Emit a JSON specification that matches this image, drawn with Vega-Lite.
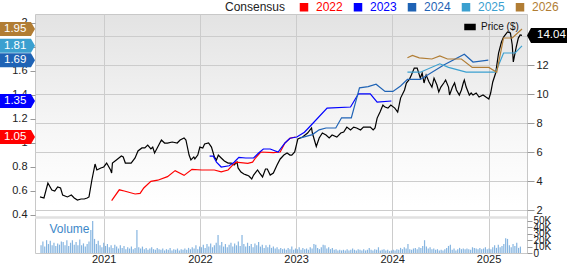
{
"$schema":"https://vega.github.io/schema/vega-lite/v6.json",
"width":492,"height":239,
"autosize":"none",
"padding":{"left":35,"top":14,"right":41,"bottom":11},
"background":"white",
"config":{"font":"Liberation Sans","view":{"stroke":"#c8c8c8","fill":{"gradient":"linear","x1":0,"y1":0,"x2":0,"y2":1,"stops":[{"offset":0,"color":"#e3e3e3"},{"offset":0.5,"color":"#f7f7f7"},{"offset":0.8,"color":"#ffffff"},{"offset":1,"color":"#ffffff"}]}},"axis":{"labelFont":"Liberation Sans","labelColor":"#222","title":null,"domain":false}},
"resolve":{"scale":{"y":"independent"},"axis":{"y":"independent"}},
"layer":[
 {"data":{"values":[{}]},"mark":{"type":"rect","color":"#e1e1e1"},"encoding":{"y":{"datum":57.5,"type":"quantitative","scale":{"domain":[0,373.4]},"axis":{"orient":"right","values":[0,10,20,30,40,50],"labelExpr":"datum.value == 0 ? '0' : datum.value + 'K'","grid":false,"tickSize":5,"tickColor":"#999","labelPadding":1,"labelFontSize":10,"labelOverlap":false,"labelFlush":false,"domain":false,"title":null}},"y2":{"datum":53.5}}},
 {"data":{"values":[
{"d":"2020-05-08","v":12},{"d":"2020-05-15","v":18},{"d":"2020-05-22","v":10},{"d":"2020-05-29","v":20},{"d":"2020-06-05","v":14},{"d":"2020-06-12","v":19},{"d":"2020-06-19","v":12},{"d":"2020-06-26","v":16},{"d":"2020-07-03","v":11},{"d":"2020-07-10","v":15},{"d":"2020-07-17","v":13},{"d":"2020-07-24","v":18},{"d":"2020-07-31","v":17},{"d":"2020-08-07","v":12},{"d":"2020-08-14","v":20},{"d":"2020-08-21","v":11},{"d":"2020-08-28","v":16},{"d":"2020-09-04","v":20},{"d":"2020-09-11","v":13},{"d":"2020-09-18","v":17},{"d":"2020-09-25","v":12},{"d":"2020-10-02","v":21},{"d":"2020-10-09","v":12},{"d":"2020-10-16","v":15},{"d":"2020-10-23","v":10},{"d":"2020-10-30","v":14},{"d":"2020-11-06","v":18},{"d":"2020-11-13","v":36},{"d":"2020-11-20","v":50},{"d":"2020-11-27","v":22},{"d":"2020-12-04","v":14},{"d":"2020-12-11","v":19},{"d":"2020-12-18","v":12},{"d":"2020-12-25","v":9},
{"d":"2021-01-01","v":16},{"d":"2021-01-08","v":11},{"d":"2021-01-15","v":14},{"d":"2021-01-22","v":9},{"d":"2021-01-29","v":12},{"d":"2021-02-05","v":8},{"d":"2021-02-12","v":13},{"d":"2021-02-19","v":10},{"d":"2021-02-26","v":7},{"d":"2021-03-05","v":12},{"d":"2021-03-12","v":8},{"d":"2021-03-19","v":11},{"d":"2021-03-26","v":6},{"d":"2021-04-02","v":9},{"d":"2021-04-09","v":7},{"d":"2021-04-16","v":10},{"d":"2021-04-23","v":6},{"d":"2021-04-30","v":8},{"d":"2021-05-07","v":36},{"d":"2021-05-14","v":9},{"d":"2021-05-21","v":7},{"d":"2021-05-28","v":10},{"d":"2021-06-04","v":6},{"d":"2021-06-11","v":8},{"d":"2021-06-18","v":5},{"d":"2021-06-25","v":7},{"d":"2021-07-02","v":9},{"d":"2021-07-09","v":6},{"d":"2021-07-16","v":5},{"d":"2021-07-23","v":8},{"d":"2021-07-30","v":6},{"d":"2021-08-06","v":5},{"d":"2021-08-13","v":7},{"d":"2021-08-20","v":4},{"d":"2021-08-27","v":6},{"d":"2021-09-03","v":5},{"d":"2021-09-10","v":8},{"d":"2021-09-17","v":4},{"d":"2021-09-24","v":6},{"d":"2021-10-01","v":5},{"d":"2021-10-08","v":7},{"d":"2021-10-15","v":4},{"d":"2021-10-22","v":6},{"d":"2021-10-29","v":5},{"d":"2021-11-05","v":7},{"d":"2021-11-12","v":5},{"d":"2021-11-19","v":8},{"d":"2021-11-26","v":6},{"d":"2021-12-03","v":9},{"d":"2021-12-10","v":7},{"d":"2021-12-17","v":12},{"d":"2021-12-24","v":6},{"d":"2021-12-31","v":10},
{"d":"2022-01-07","v":9},{"d":"2022-01-14","v":13},{"d":"2022-01-21","v":8},{"d":"2022-01-28","v":14},{"d":"2022-02-04","v":10},{"d":"2022-02-11","v":15},{"d":"2022-02-18","v":9},{"d":"2022-02-25","v":12},{"d":"2022-03-04","v":16},{"d":"2022-03-11","v":28},{"d":"2022-03-18","v":12},{"d":"2022-03-25","v":17},{"d":"2022-04-01","v":10},{"d":"2022-04-08","v":14},{"d":"2022-04-15","v":9},{"d":"2022-04-22","v":13},{"d":"2022-04-29","v":16},{"d":"2022-05-06","v":10},{"d":"2022-05-13","v":15},{"d":"2022-05-20","v":12},{"d":"2022-05-27","v":18},{"d":"2022-06-03","v":11},{"d":"2022-06-10","v":28},{"d":"2022-06-17","v":14},{"d":"2022-06-24","v":10},{"d":"2022-07-01","v":16},{"d":"2022-07-08","v":11},{"d":"2022-07-15","v":14},{"d":"2022-07-22","v":9},{"d":"2022-07-29","v":15},{"d":"2022-08-05","v":12},{"d":"2022-08-12","v":17},{"d":"2022-08-19","v":10},{"d":"2022-08-26","v":13},{"d":"2022-09-02","v":8},{"d":"2022-09-09","v":12},{"d":"2022-09-16","v":9},{"d":"2022-09-23","v":13},{"d":"2022-09-30","v":8},{"d":"2022-10-07","v":10},{"d":"2022-10-14","v":7},{"d":"2022-10-21","v":9},{"d":"2022-10-28","v":6},{"d":"2022-11-04","v":8},{"d":"2022-11-11","v":6},{"d":"2022-11-18","v":7},{"d":"2022-11-25","v":5},{"d":"2022-12-02","v":8},{"d":"2022-12-09","v":6},{"d":"2022-12-16","v":10},{"d":"2022-12-23","v":5},{"d":"2022-12-30","v":7},
{"d":"2023-01-06","v":6},{"d":"2023-01-13","v":9},{"d":"2023-01-20","v":5},{"d":"2023-01-27","v":8},{"d":"2023-02-03","v":6},{"d":"2023-02-10","v":7},{"d":"2023-02-17","v":5},{"d":"2023-02-24","v":9},{"d":"2023-03-03","v":7},{"d":"2023-03-10","v":14},{"d":"2023-03-17","v":13},{"d":"2023-03-24","v":8},{"d":"2023-03-31","v":6},{"d":"2023-04-07","v":9},{"d":"2023-04-14","v":13},{"d":"2023-04-21","v":12},{"d":"2023-04-28","v":7},{"d":"2023-05-05","v":9},{"d":"2023-05-12","v":6},{"d":"2023-05-19","v":8},{"d":"2023-05-26","v":5},{"d":"2023-06-02","v":6},{"d":"2023-06-09","v":4},{"d":"2023-06-16","v":5},{"d":"2023-06-23","v":4},{"d":"2023-06-30","v":5},{"d":"2023-07-07","v":4},{"d":"2023-07-14","v":6},{"d":"2023-07-21","v":4},{"d":"2023-07-28","v":5},{"d":"2023-08-04","v":7},{"d":"2023-08-11","v":5},{"d":"2023-08-18","v":4},{"d":"2023-08-25","v":6},{"d":"2023-09-01","v":5},{"d":"2023-09-08","v":4},{"d":"2023-09-15","v":6},{"d":"2023-09-22","v":4},{"d":"2023-09-29","v":5},{"d":"2023-10-06","v":8},{"d":"2023-10-13","v":5},{"d":"2023-10-20","v":4},{"d":"2023-10-27","v":6},{"d":"2023-11-03","v":5},{"d":"2023-11-10","v":9},{"d":"2023-11-17","v":4},{"d":"2023-11-24","v":5},{"d":"2023-12-01","v":6},{"d":"2023-12-08","v":4},{"d":"2023-12-15","v":5},{"d":"2023-12-22","v":3},{"d":"2023-12-29","v":4},
{"d":"2024-01-05","v":5},{"d":"2024-01-12","v":4},{"d":"2024-01-19","v":6},{"d":"2024-01-26","v":5},{"d":"2024-02-02","v":8},{"d":"2024-02-09","v":6},{"d":"2024-02-16","v":9},{"d":"2024-02-23","v":7},{"d":"2024-03-01","v":14},{"d":"2024-03-08","v":6},{"d":"2024-03-15","v":5},{"d":"2024-03-22","v":7},{"d":"2024-03-29","v":8},{"d":"2024-04-05","v":6},{"d":"2024-04-12","v":9},{"d":"2024-04-19","v":8},{"d":"2024-04-26","v":11},{"d":"2024-05-03","v":20},{"d":"2024-05-10","v":10},{"d":"2024-05-17","v":7},{"d":"2024-05-24","v":9},{"d":"2024-05-31","v":6},{"d":"2024-06-07","v":7},{"d":"2024-06-14","v":5},{"d":"2024-06-21","v":6},{"d":"2024-06-28","v":4},{"d":"2024-07-05","v":5},{"d":"2024-07-12","v":4},{"d":"2024-07-19","v":6},{"d":"2024-07-26","v":8},{"d":"2024-08-02","v":11},{"d":"2024-08-09","v":13},{"d":"2024-08-16","v":5},{"d":"2024-08-23","v":7},{"d":"2024-08-30","v":4},{"d":"2024-09-06","v":6},{"d":"2024-09-13","v":8},{"d":"2024-09-20","v":6},{"d":"2024-09-27","v":7},{"d":"2024-10-04","v":6},{"d":"2024-10-11","v":7},{"d":"2024-10-18","v":6},{"d":"2024-10-25","v":5},{"d":"2024-11-01","v":9},{"d":"2024-11-08","v":8},{"d":"2024-11-15","v":7},{"d":"2024-11-22","v":6},{"d":"2024-11-29","v":8},{"d":"2024-12-06","v":6},{"d":"2024-12-13","v":7},{"d":"2024-12-20","v":9},{"d":"2024-12-27","v":6},
{"d":"2025-01-03","v":7},{"d":"2025-01-10","v":6},{"d":"2025-01-17","v":9},{"d":"2025-01-24","v":12},{"d":"2025-01-31","v":8},{"d":"2025-02-07","v":13},{"d":"2025-02-14","v":9},{"d":"2025-02-21","v":11},{"d":"2025-02-28","v":14},{"d":"2025-03-07","v":23},{"d":"2025-03-14","v":22},{"d":"2025-03-21","v":12},{"d":"2025-03-28","v":9},{"d":"2025-04-04","v":14},{"d":"2025-04-11","v":11},{"d":"2025-04-18","v":16},{"d":"2025-04-25","v":8},{"d":"2025-05-02","v":10}
 ]},"mark":{"type":"bar","width":1.2,"color":"#86b5e0"},"encoding":{
  "x":{"field":"d","type":"temporal","scale":{"type":"utc","domain":[{"year":2020,"month":5,"date":4,"utc":true},{"year":2025,"month":5,"date":8,"utc":true}]},"axis":{"orient":"bottom","values":[{"year":2021,"month":1,"date":1,"utc":true},{"year":2022,"month":1,"date":1,"utc":true},{"year":2023,"month":1,"date":1,"utc":true},{"year":2024,"month":1,"date":1,"utc":true},{"year":2025,"month":1,"date":1,"utc":true}],"format":"%Y","grid":true,"gridColor":"#cccccc","ticks":false,"labelPadding":0,"labelFontSize":11,"labelFlush":false,"labelColor":"#222","domain":false,"title":null}},
  "y":{"field":"v","type":"quantitative","scale":{"domain":[0,373.4]},"axis":null}}},
 {"data":{"values":[{}]},"mark":{"type":"text","align":"left","baseline":"alphabetic","fontSize":12,"color":"#3d88c9"},"encoding":{"x":{"datum":{"year":2020,"month":6,"date":9,"utc":true},"type":"temporal"},"y":{"datum":31,"type":"quantitative","scale":{"domain":[0,373.4]},"axis":null},"text":{"value":"Volume"}}},
 {"data":{"values":[
{"d":"2020-05-04","p":2.9},{"d":"2020-05-19","p":2.83},{"d":"2020-06-03","p":3.86},{"d":"2020-06-18","p":3.38},{"d":"2020-06-29","p":3.31},{"d":"2020-07-10","p":3.59},{"d":"2020-07-21","p":3.52},{"d":"2020-07-29","p":3.03},{"d":"2020-08-16","p":2.9},{"d":"2020-08-31","p":3.03},{"d":"2020-09-11","p":2.83},{"d":"2020-09-23","p":2.69},{"d":"2020-10-07","p":2.76},{"d":"2020-10-19","p":2.76},{"d":"2020-10-30","p":2.83},{"d":"2020-11-06","p":2.9},{"d":"2020-11-17","p":4.07},{"d":"2020-11-29","p":5.17},{"d":"2020-12-06","p":4.76},{"d":"2020-12-21","p":4.9},{"d":"2021-01-01","p":4.97},{"d":"2021-01-12","p":5.24},{"d":"2021-01-27","p":4.76},{"d":"2021-01-31","p":4.55},{"d":"2021-02-03","p":5.24},{"d":"2021-02-18","p":5.45},{"d":"2021-03-09","p":5.72},{"d":"2021-03-16","p":5.66},{"d":"2021-03-24","p":5.24},{"d":"2021-04-15","p":5.24},{"d":"2021-04-30","p":5.59},{"d":"2021-05-11","p":6.07},{"d":"2021-05-26","p":6.28},{"d":"2021-06-06","p":6.28},{"d":"2021-06-17","p":6.48},{"d":"2021-06-29","p":6.21},{"d":"2021-07-06","p":6.34},{"d":"2021-07-13","p":5.93},{"d":"2021-07-25","p":6.34},{"d":"2021-08-08","p":6.83},{"d":"2021-08-20","p":6.62},{"d":"2021-08-31","p":6.62},{"d":"2021-09-18","p":6.69},{"d":"2021-10-07","p":6.62},{"d":"2021-10-18","p":6.83},{"d":"2021-11-02","p":6.97},{"d":"2021-11-09","p":6.83},{"d":"2021-11-21","p":5.79},{"d":"2021-11-28","p":5.45},{"d":"2021-12-09","p":5.66},{"d":"2021-12-13","p":5.52},{"d":"2021-12-24","p":5.79},{"d":"2022-01-01","p":6.34},{"d":"2022-01-12","p":6.28},{"d":"2022-01-19","p":6.55},{"d":"2022-02-03","p":6.62},{"d":"2022-02-14","p":6.34},{"d":"2022-02-25","p":5.66},{"d":"2022-03-05","p":5.45},{"d":"2022-03-12","p":5.79},{"d":"2022-03-23","p":5.59},{"d":"2022-04-04","p":5.38},{"d":"2022-04-18","p":5.24},{"d":"2022-04-30","p":5.24},{"d":"2022-05-11","p":5.1},{"d":"2022-05-22","p":5.31},{"d":"2022-05-26","p":4.9},{"d":"2022-06-06","p":4.62},{"d":"2022-06-17","p":4.48},{"d":"2022-06-28","p":4.41},{"d":"2022-07-06","p":4.34},{"d":"2022-07-17","p":4.14},{"d":"2022-07-24","p":4.41},{"d":"2022-08-08","p":4.76},{"d":"2022-08-16","p":4.55},{"d":"2022-08-27","p":4.28},{"d":"2022-09-07","p":4.83},{"d":"2022-09-14","p":4.83},{"d":"2022-09-25","p":4.41},{"d":"2022-10-07","p":4.55},{"d":"2022-10-21","p":5.1},{"d":"2022-11-02","p":5.52},{"d":"2022-11-16","p":5.79},{"d":"2022-11-28","p":5.93},{"d":"2022-12-09","p":5.79},{"d":"2022-12-16","p":5.79},{"d":"2022-12-27","p":6.0},{"d":"2023-01-08","p":6.9},{"d":"2023-01-26","p":7.03},{"d":"2023-02-14","p":7.31},{"d":"2023-03-01","p":7.66},{"d":"2023-03-04","p":7.31},{"d":"2023-03-19","p":6.38},{"d":"2023-03-30","p":6.97},{"d":"2023-04-11","p":7.31},{"d":"2023-04-25","p":7.17},{"d":"2023-05-07","p":6.97},{"d":"2023-05-18","p":7.17},{"d":"2023-06-05","p":7.03},{"d":"2023-06-20","p":7.31},{"d":"2023-07-01","p":7.38},{"d":"2023-07-13","p":7.72},{"d":"2023-07-27","p":7.52},{"d":"2023-08-08","p":7.72},{"d":"2023-08-19","p":7.66},{"d":"2023-09-03","p":7.52},{"d":"2023-09-14","p":7.72},{"d":"2023-09-25","p":7.72},{"d":"2023-10-10","p":7.72},{"d":"2023-10-21","p":7.52},{"d":"2023-10-28","p":7.66},{"d":"2023-11-05","p":8.34},{"d":"2023-11-16","p":8.76},{"d":"2023-11-27","p":9.24},{"d":"2023-12-05","p":9.1},{"d":"2023-12-16","p":9.03},{"d":"2023-12-27","p":9.24},{"d":"2024-01-11","p":9.03},{"d":"2024-01-22","p":8.76},{"d":"2024-02-02","p":9.72},{"d":"2024-02-17","p":10.28},{"d":"2024-02-24","p":10.76},{"d":"2024-03-07","p":11.03},{"d":"2024-03-14","p":11.31},{"d":"2024-03-25","p":11.79},{"d":"2024-04-05","p":11.79},{"d":"2024-04-17","p":11.1},{"d":"2024-04-24","p":11.45},{"d":"2024-05-01","p":10.76},{"d":"2024-05-09","p":11.31},{"d":"2024-05-20","p":10.83},{"d":"2024-05-31","p":10.48},{"d":"2024-06-08","p":11.1},{"d":"2024-06-19","p":10.62},{"d":"2024-06-26","p":10.14},{"d":"2024-07-04","p":10.48},{"d":"2024-07-15","p":10.76},{"d":"2024-07-22","p":10.97},{"d":"2024-08-02","p":10.48},{"d":"2024-08-06","p":9.93},{"d":"2024-08-17","p":10.48},{"d":"2024-08-25","p":10.76},{"d":"2024-09-01","p":10.28},{"d":"2024-09-12","p":9.93},{"d":"2024-09-20","p":10.28},{"d":"2024-09-27","p":10.76},{"d":"2024-10-01","p":10.97},{"d":"2024-10-08","p":10.48},{"d":"2024-10-20","p":9.93},{"d":"2024-10-27","p":10.07},{"d":"2024-11-03","p":9.93},{"d":"2024-11-15","p":10.07},{"d":"2024-11-26","p":9.79},{"d":"2024-12-11","p":9.93},{"d":"2024-12-22","p":9.79},{"d":"2025-01-02","p":9.66},{"d":"2025-01-09","p":10.07},{"d":"2025-01-17","p":10.83},{"d":"2025-01-28","p":11.45},{"d":"2025-02-08","p":12.83},{"d":"2025-02-19","p":13.59},{"d":"2025-02-27","p":13.93},{"d":"2025-03-14","p":14.28},{"d":"2025-03-25","p":14.21},{"d":"2025-04-01","p":13.38},{"d":"2025-04-05","p":12.21},{"d":"2025-04-16","p":13.24},{"d":"2025-04-24","p":13.86},{"d":"2025-05-01","p":14.07},{"d":"2025-05-08","p":14.04}
 ]},"mark":{"type":"line","strokeWidth":1.2},"encoding":{
  "x":{"field":"d","type":"temporal","scale":{"type":"utc","domain":[{"year":2020,"month":5,"date":4,"utc":true},{"year":2025,"month":5,"date":8,"utc":true}]},"axis":{"orient":"bottom","values":[{"year":2021,"month":1,"date":1,"utc":true},{"year":2022,"month":1,"date":1,"utc":true},{"year":2023,"month":1,"date":1,"utc":true},{"year":2024,"month":1,"date":1,"utc":true},{"year":2025,"month":1,"date":1,"utc":true}],"format":"%Y","grid":true,"gridColor":"#cccccc","ticks":false,"labelPadding":0,"labelFontSize":11,"labelFlush":false,"labelColor":"#222","domain":false,"title":null}},
  "y":{"field":"p","type":"quantitative","scale":{"domain":[-0.966,15.52]},"axis":{"orient":"right","values":[2,4,6,8,10,12,14],"grid":true,"gridColor":"#cccccc","tickSize":7,"tickColor":"#999","labelPadding":2,"labelFontSize":11,"labelFlush":false,"labelOverlap":false,"domain":false,"title":null}},
  "stroke":{"datum":"Price ($)","type":"nominal","scale":{"domain":["Price ($)"],"range":["#000000"]},"legend":{"orient":"none","legendX":429,"legendY":7,"title":null,"symbolType":"M-1,-0.5L1,-0.5L1,0.5L-1,0.5Z","symbolSize":100,"labelFontSize":10,"labelColor":"#111","labelOffset":5,"padding":0,"encode":{"symbols":{"update":{"fill":{"value":"#000000"},"stroke":{"value":"transparent"}}}}}}}},
 {"data":{"values":[{"p":14.04}]},"mark":{"type":"point","filled":true,"opacity":1,"shape":"M-1,0L-0.8,-0.375L1,-0.375L1,0.375L-0.8,0.375Z","size":1600,"color":"#000000","strokeWidth":0},"encoding":{"x":{"value":512},"y":{"field":"p","type":"quantitative","scale":{"domain":[-0.966,15.52]},"axis":null}}},
 {"data":{"values":[{"p":14.04}]},"mark":{"type":"text","align":"left","baseline":"middle","fontSize":11.5,"color":"#ffffff"},"encoding":{"x":{"value":502},"y":{"field":"p","type":"quantitative","scale":{"domain":[-0.966,15.52]},"axis":null},"text":{"field":"p","type":"quantitative","format":".2f"}}},
 {"data":{"values":[
{"yr":"2022","d":"2021-01-31","e":0.52},{"yr":"2022","d":"2021-03-01","e":0.61},{"yr":"2022","d":"2021-03-20","e":0.6},{"yr":"2022","d":"2021-04-30","e":0.575},{"yr":"2022","d":"2021-05-19","e":0.58},{"yr":"2022","d":"2021-06-02","e":0.625},{"yr":"2022","d":"2021-06-29","e":0.68},{"yr":"2022","d":"2021-07-25","e":0.69},{"yr":"2022","d":"2021-08-31","e":0.72},{"yr":"2022","d":"2021-09-29","e":0.77},{"yr":"2022","d":"2021-11-02","e":0.73},{"yr":"2022","d":"2021-12-02","e":0.78},{"yr":"2022","d":"2022-01-08","e":0.775},{"yr":"2022","d":"2022-02-25","e":0.775},{"yr":"2022","d":"2022-03-23","e":0.76},{"yr":"2022","d":"2022-04-18","e":0.775},{"yr":"2022","d":"2022-05-07","e":0.82},{"yr":"2022","d":"2022-05-18","e":0.84},{"yr":"2022","d":"2022-07-02","e":0.83},{"yr":"2022","d":"2022-07-20","e":0.84},{"yr":"2022","d":"2022-07-31","e":0.875},{"yr":"2022","d":"2022-08-20","e":0.925},{"yr":"2022","d":"2022-10-07","e":0.92},{"yr":"2022","d":"2022-11-02","e":0.925},{"yr":"2022","d":"2022-11-20","e":1.0},{"yr":"2022","d":"2022-12-09","e":1.04},{"yr":"2022","d":"2022-12-30","e":1.05},
{"yr":"2023","d":"2022-02-07","e":0.89},{"yr":"2023","d":"2022-02-21","e":0.89},{"yr":"2023","d":"2022-03-05","e":0.84},{"yr":"2023","d":"2022-03-23","e":0.8},{"yr":"2023","d":"2022-04-22","e":0.81},{"yr":"2023","d":"2022-05-11","e":0.84},{"yr":"2023","d":"2022-05-29","e":0.88},{"yr":"2023","d":"2022-06-24","e":0.875},{"yr":"2023","d":"2022-07-24","e":0.875},{"yr":"2023","d":"2022-08-12","e":0.917},{"yr":"2023","d":"2022-08-30","e":0.95},{"yr":"2023","d":"2022-09-25","e":0.95},{"yr":"2023","d":"2022-10-25","e":0.925},{"yr":"2023","d":"2022-11-20","e":1.0},{"yr":"2023","d":"2022-12-09","e":1.04},{"yr":"2023","d":"2023-01-04","e":1.05},{"yr":"2023","d":"2023-02-02","e":1.09},{"yr":"2023","d":"2023-02-28","e":1.15},{"yr":"2023","d":"2023-04-29","e":1.29},{"yr":"2023","d":"2023-07-27","e":1.3},{"yr":"2023","d":"2023-08-26","e":1.41},{"yr":"2023","d":"2023-10-10","e":1.41},{"yr":"2023","d":"2023-11-05","e":1.34},{"yr":"2023","d":"2023-12-29","e":1.35},
{"yr":"2024","d":"2023-01-15","e":1.04},{"yr":"2024","d":"2023-03-04","e":1.07},{"yr":"2024","d":"2023-03-30","e":1.11},{"yr":"2024","d":"2023-04-25","e":1.125},{"yr":"2024","d":"2023-06-01","e":1.125},{"yr":"2024","d":"2023-06-23","e":1.21},{"yr":"2024","d":"2023-07-30","e":1.21},{"yr":"2024","d":"2023-08-30","e":1.46},{"yr":"2024","d":"2023-10-02","e":1.47},{"yr":"2024","d":"2023-11-01","e":1.49},{"yr":"2024","d":"2023-12-05","e":1.43},{"yr":"2024","d":"2024-01-04","e":1.43},{"yr":"2024","d":"2024-02-02","e":1.475},{"yr":"2024","d":"2024-02-28","e":1.53},{"yr":"2024","d":"2024-04-17","e":1.53},{"yr":"2024","d":"2024-07-15","e":1.65},{"yr":"2024","d":"2024-10-01","e":1.74},{"yr":"2024","d":"2024-11-03","e":1.675},{"yr":"2024","d":"2024-12-31","e":1.69},
{"yr":"2025","d":"2024-02-28","e":1.59},{"yr":"2025","d":"2024-04-17","e":1.59},{"yr":"2025","d":"2024-06-30","e":1.66},{"yr":"2025","d":"2024-08-02","e":1.63},{"yr":"2025","d":"2024-10-08","e":1.59},{"yr":"2025","d":"2025-01-28","e":1.59},{"yr":"2025","d":"2025-02-27","e":1.75},{"yr":"2025","d":"2025-04-12","e":1.75},{"yr":"2025","d":"2025-05-08","e":1.81},
{"yr":"2026","d":"2024-02-28","e":1.71},{"yr":"2026","d":"2024-03-18","e":1.73},{"yr":"2026","d":"2024-04-13","e":1.71},{"yr":"2026","d":"2024-05-31","e":1.7},{"yr":"2026","d":"2024-06-30","e":1.725},{"yr":"2026","d":"2024-07-29","e":1.7},{"yr":"2026","d":"2024-09-20","e":1.7},{"yr":"2026","d":"2024-10-31","e":1.63},{"yr":"2026","d":"2025-01-02","e":1.63},{"yr":"2026","d":"2025-02-01","e":1.59},{"yr":"2026","d":"2025-02-27","e":1.875},{"yr":"2026","d":"2025-04-01","e":1.875},{"yr":"2026","d":"2025-05-08","e":1.95}
 ]},"mark":{"type":"line","strokeWidth":1.2},"encoding":{
  "x":{"field":"d","type":"temporal","scale":{"type":"utc","domain":[{"year":2020,"month":5,"date":4,"utc":true},{"year":2025,"month":5,"date":8,"utc":true}]},"axis":{"orient":"bottom","values":[{"year":2021,"month":1,"date":1,"utc":true},{"year":2022,"month":1,"date":1,"utc":true},{"year":2023,"month":1,"date":1,"utc":true},{"year":2024,"month":1,"date":1,"utc":true},{"year":2025,"month":1,"date":1,"utc":true}],"format":"%Y","grid":true,"gridColor":"#cccccc","ticks":false,"labelPadding":0,"labelFontSize":11,"labelFlush":false,"labelColor":"#222","domain":false,"title":null}},
  "y":{"field":"e","type":"quantitative","scale":{"domain":[0.0833,2.075]},"axis":{"orient":"left","values":[0.4,0.6,0.8,1,1.2,1.4,1.6,1.8,2],"labelExpr":"'' + datum.value","grid":false,"tickSize":5,"tickColor":"#999","labelPadding":3,"labelFontSize":11,"labelFlush":false,"labelOverlap":false,"domain":false,"title":null}},
  "color":{"field":"yr","type":"nominal","scale":{"domain":["2022","2023","2024","2025","2026"],"range":["#ff0000","#0000ff","#1f63b5","#3ba0d0","#b17d34"]},"legend":{"orient":"none","legendX":190,"legendY":-13,"direction":"horizontal","columns":5,"title":"Consensus","titleOrient":"left","titleFontSize":12,"titleFontWeight":"normal","titleColor":"#222","titlePadding":12,"labelFontSize":12,"symbolType":"square","symbolSize":49,"labelOffset":6,"columnPadding":8,"padding":0,"encode":{"symbols":{"update":{"fill":{"scale":"color","field":"value"},"stroke":{"value":"transparent"}}},"labels":{"update":{"fill":{"scale":"color","field":"value"}}}}}}}},
 {"data":{"values":[{"yr":"2026","e":1.95},{"yr":"2025","e":1.81},{"yr":"2024","e":1.69},{"yr":"2023","e":1.35},{"yr":"2022","e":1.05}]},"mark":{"type":"point","filled":true,"opacity":1,"strokeWidth":0,"shape":"M-1,-0.4L0.77,-0.4L1,0L0.77,0.4L-1,0.4Z","size":1225},"encoding":{"x":{"value":-17.5},"y":{"field":"e","type":"quantitative","scale":{"domain":[0.0833,2.075]},"axis":null},"fill":{"field":"yr","type":"nominal","scale":{"domain":["2022","2023","2024","2025","2026"],"range":["#ff0000","#0000ff","#1f63b5","#3ba0d0","#b17d34"]},"legend":null}}},
 {"data":{"values":[{"yr":"2026","e":1.95},{"yr":"2025","e":1.81},{"yr":"2024","e":1.69},{"yr":"2023","e":1.35},{"yr":"2022","e":1.05}]},"mark":{"type":"text","align":"left","baseline":"middle","fontSize":11.5,"color":"#ffffff"},"encoding":{"x":{"value":-31},"y":{"field":"e","type":"quantitative","scale":{"domain":[0.0833,2.075]},"axis":null},"text":{"field":"e","type":"quantitative","format":".2f"}}}
]
}
